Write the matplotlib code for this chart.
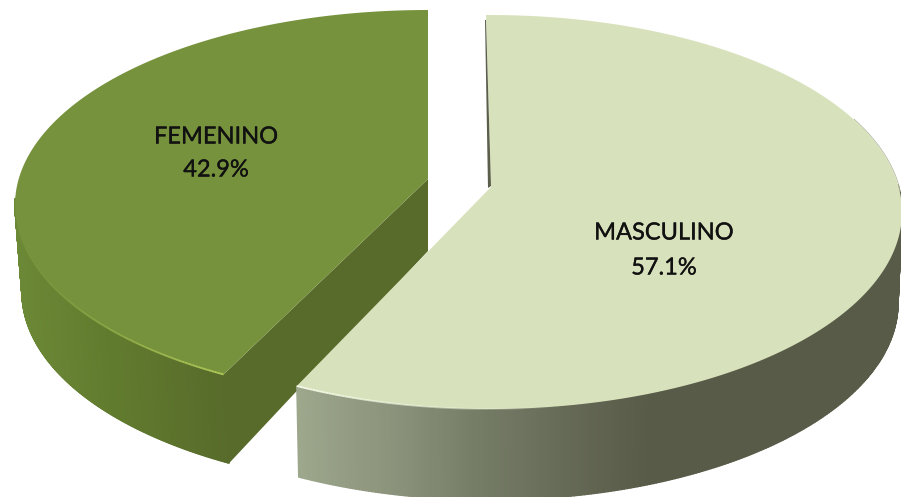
import numpy as np
import matplotlib
matplotlib.use('Agg')
import matplotlib.pyplot as plt
import matplotlib.patheffects as pe
from matplotlib.collections import PolyCollection, LineCollection
from matplotlib.colors import to_rgb

labels = ['MASCULINO', 'FEMENINO']
shares = [57.1, 42.9]

plt.rcParams['font.family'] = ['Lato', 'DejaVu Sans']


def ramp(x, stops, colors):
	rgb = np.array([to_rgb(c) for c in colors])
	return np.column_stack([np.interp(x, stops, rgb[:, i]) for i in range(3)])


def arc(ang, cx, cy, a, b):
	# pie angle in degrees, y axis points down
	t = np.radians(ang)
	return np.column_stack([cx + a * np.cos(t), cy - b * np.sin(t)])


def wall(ax, a0, a1, top, bottom, stops, colors, zorder):
	ang = np.linspace(a0, a1, 260)
	up = arc(ang, *top)
	low = arc(ang, *bottom)
	quads = [[up[i], up[i + 1], low[i + 1], low[i]] for i in range(len(ang) - 1)]
	cols = ramp(up[:-1, 0], stops, colors)
	ax.add_collection(PolyCollection(quads, facecolors=cols, edgecolors=cols, linewidths=1.0, zorder=zorder))
	return up


fig = plt.figure(figsize=(9.01, 4.97), dpi=100)
ax = fig.add_axes([0, 0, 1, 1])
ax.set_xlim(0, 901)
ax.set_ylim(497, 0)
ax.axis('off')

# both slices start at twelve o'clock, the second one runs counter clockwise
span = 360 * np.array(shares) / sum(shares)

# femenino
top_f = (428, 205, 413, 195)
low_f = (432, 292, 410, 197)
end_f = 90 + span[1] - 4.1
up_f = wall(ax, end_f, 178, top_f, low_f, [20, 110, 225], ['#6b8836', '#617b2e', '#586b2b'], 1)
cut = arc(np.array([end_f]), *low_f)[0]
ax.fill([428, up_f[0, 0], cut[0], 428], [179, up_f[0, 1], cut[1], 251], color='#586b2b', lw=0, zorder=2)
pts = np.vstack([[(428, 179)], arc(np.linspace(90, end_f, 200), *top_f)])
ax.fill(pts[:, 0], pts[:, 1], color='#76923c', lw=0, zorder=3)

# masculino
top_m = (490, 212, 412, 197)
low_m = (490, 303, 408, 197)
end_m = 90 - span[0] - 2.4
up_m = wall(ax, end_m, 8, top_m, low_m, [298, 400, 480, 600, 650],
	['#9ca78c', '#8a917a', '#757c66', '#5f6350', '#585b48'], 5)
pts = np.vstack([[(491, 187), (486, 15)], arc(np.linspace(90, end_m, 300), *top_m)])
ax.fill(pts[:, 0], pts[:, 1], color='#d7e2bc', lw=0, zorder=7)

# inner wall showing next to the apex
ax.fill([485, 486, 491, 488], [20, 20, 186, 188], color='#5a5e4a', lw=0, zorder=8)

# lit rims
seg = np.stack([up_f[:-1], up_f[1:]], axis=1)
fade = np.clip((up_f[:-1, 0] - 15) / 210, 0, 1)[:, None]
rim = np.hstack([np.tile(to_rgb('#b4cf5c'), (len(seg), 1)), fade])
ax.add_collection(LineCollection(seg, colors=rim, linewidths=1.3, zorder=4))
seg = np.stack([up_m[:-1], up_m[1:]], axis=1)
fade = np.clip(1 - (up_m[:-1, 0] - 298) / 260, 0, 1)[:, None]
rim = np.hstack([np.tile(to_rgb('#f6fae6'), (len(seg), 1)), fade])
ax.add_collection(LineCollection(seg, colors=rim, linewidths=1.3, zorder=9))
edge = arc(np.linspace(28, 6, 60), 490, 212, 412.5, 197.5)
ax.plot(edge[:, 0], edge[:, 1], color='#b0b6a0', lw=0.6, zorder=6)

stroke = [pe.withStroke(linewidth=0.25, foreground='#111111')]
for x, y, s in [(664, 233, labels[0]), (664, 268, f'{shares[0]}%'), (216, 137, labels[1]), (216, 170, f'{shares[1]}%')]:
	ax.text(x, y, s, fontsize=17, color='#111111', ha='center', va='center', zorder=10, path_effects=stroke)

fig.savefig('out.png', dpi=100)
